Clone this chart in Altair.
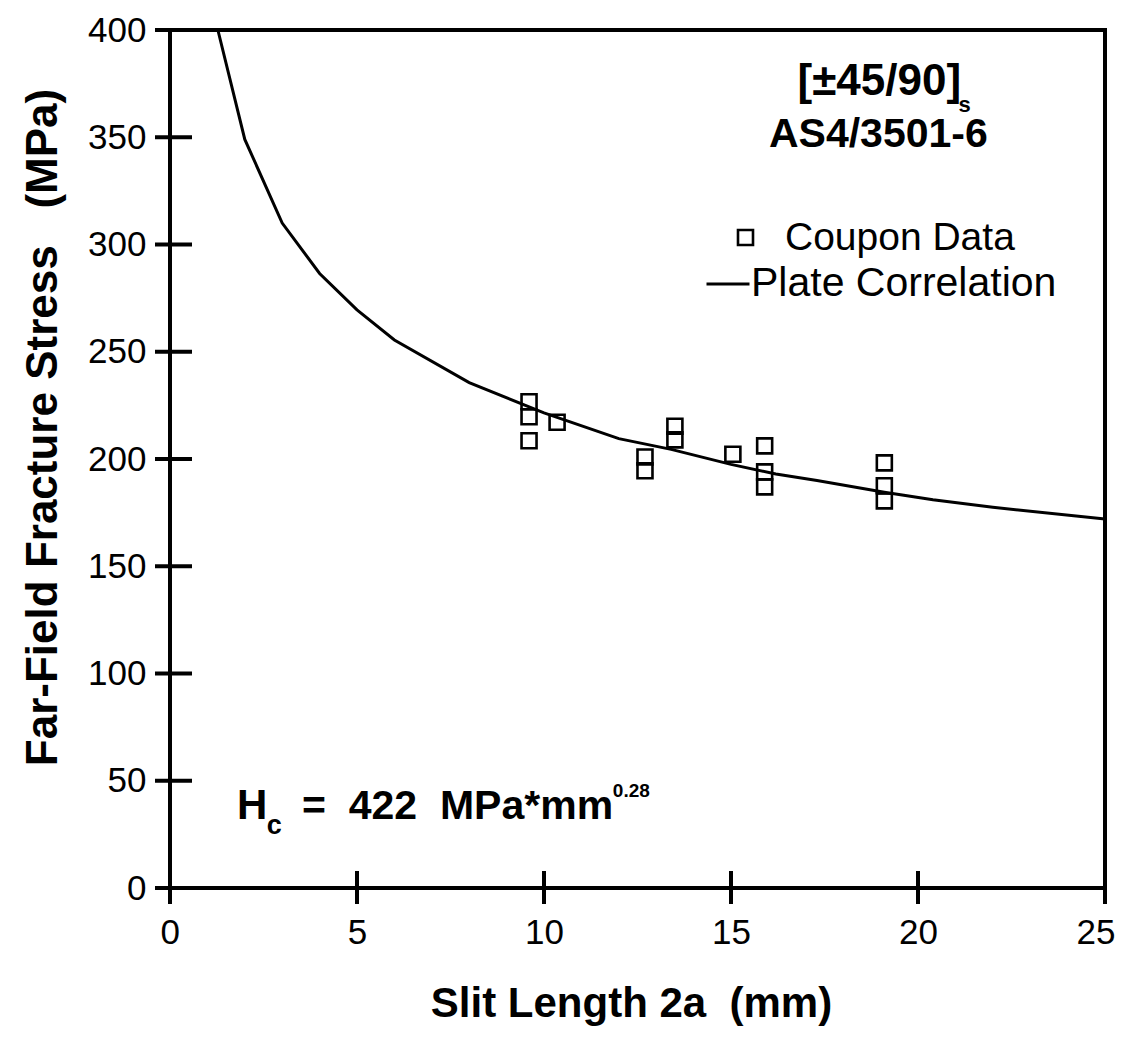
import altair as alt
import pandas as pd

FONT = "Liberation Sans"
NB = "\u00a0"

# ---- data ----
coupon_len = [9.6, 9.6, 9.6, 10.35, 12.7, 12.7, 13.5, 13.5, 15.05, 15.9, 15.9, 15.9, 19.1, 19.1, 19.1]
coupon_stress = [226.7, 219.7, 208.5, 217.1, 200.9, 194.5, 215.3, 208.9, 202.2, 206.1, 194.0, 187.0, 198.2, 187.5, 180.5]

curve_len = [1.28, 2, 3, 4, 5, 6, 8, 10, 12, 13.4, 15, 16.2, 17.3, 19.1, 20.4, 22, 25]
curve_stress = [400, 349, 310, 286.5, 269.5, 255.5, 235.6, 221.5, 209.5, 204.5, 197.5, 193, 190, 184.5, 181, 177.5, 172]

x_ticks = [0, 5, 10, 15, 20, 25]
y_ticks = [0, 50, 100, 150, 200, 250, 300, 350, 400]

series_points = "Coupon Data"
series_line = "Plate Correlation"

x_title = "Slit Length 2a" + NB + NB + "(mm)"
y_title = "Far-Field Fracture Stress" + NB + NB + NB + "(MPa)"

# ---- scales / axes ----
xscale = alt.Scale(domain=[0, 25], nice=False, zero=False)
yscale = alt.Scale(domain=[0, 400], nice=False, zero=False)

xaxis = alt.Axis(values=x_ticks, format="d", ticks=False, tickSize=0, domain=False, grid=False,
                 labelFont=FONT, labelFontSize=35, labelColor="black", labelPadding=27,
                 labelFlush=True, labelFlushOffset=10, labelOverlap=False,
                 title=x_title, titleFont=FONT, titleFontSize=42, titleFontWeight="bold",
                 titleColor="black", titleX=461, titleY=128, titleBaseline="alphabetic",
                 titleAlign="center")
yaxis = alt.Axis(values=y_ticks, format="d", ticks=False, tickSize=0, domain=False, grid=False,
                 labelFont=FONT, labelFontSize=35, labelColor="black", labelPadding=24,
                 labelFlush=False, labelOverlap=False,
                 title=y_title, titleFont=FONT, titleFontSize=44, titleFontWeight="bold",
                 titleColor="black", titleX=-127, titleY=397, titleBaseline="middle",
                 titleAlign="center", titleAngle=270)

X = lambda f: alt.X(f, type="quantitative", scale=xscale, axis=xaxis)
Y = lambda f: alt.Y(f, type="quantitative", scale=yscale, axis=yaxis)

df_pts = pd.DataFrame({"len": coupon_len, "stress": coupon_stress, "kind": series_points})
df_line = pd.DataFrame({"len": curve_len, "stress": curve_stress, "model": series_line})

points = alt.Chart(df_pts).mark_point(
    shape="square", filled=False, color="black", strokeWidth=2.6, size=225, opacity=1
).encode(
    x=X("len"), y=Y("stress"),
    shape=alt.Shape("kind:N", scale=alt.Scale(domain=[series_points], range=["square"]),
                    legend=alt.Legend(title=None, orient="none", legendX=556, legendY=188,
                                      padding=0, symbolSize=225, symbolStrokeWidth=2.6,
                                      symbolStrokeColor="black", symbolFillColor="transparent",
                                      symbolOpacity=1, labelFont=FONT, labelFontSize=39,
                                      labelColor="black", labelOffset=20, labelLimit=0)),
)

line = alt.Chart(df_line).mark_line(strokeWidth=3).encode(
    x=X("len"), y=Y("stress"),
    color=alt.Color("model:N", scale=alt.Scale(domain=[series_line], range=["black"]),
                    legend=alt.Legend(title=None, orient="none", legendX=535, legendY=231,
                                      padding=0, symbolType="stroke", symbolSize=1849,
                                      symbolStrokeWidth=3, symbolStrokeColor="black",
                                      labelFont=FONT, labelFontSize=41, labelColor="black",
                                      labelOffset=0, labelLimit=0)),
)

# tick marks crossing the axes
df_yt = pd.DataFrame({"stress": y_ticks})
yticks = alt.Chart(df_yt).mark_rule(
    strokeWidth=4, color="black", xOffset=-15, x2Offset=22
).encode(
    x=alt.XDatum(0, type="quantitative", scale=xscale, axis=xaxis),
    x2=alt.datum(0),
    y=Y("stress"),
)

df_xt = pd.DataFrame({"len": x_ticks})
xticks = alt.Chart(df_xt).mark_rule(
    strokeWidth=4, color="black", yOffset=-17, y2Offset=16
).encode(
    x=X("len"),
    y=alt.YDatum(0, type="quantitative", scale=yscale, axis=yaxis),
    y2=alt.datum(0),
)


def note(text, x, y, size, align="left", weight="bold"):
    df = pd.DataFrame({"len": [x], "stress": [y], "label": [text]})
    return alt.Chart(df).mark_text(
        font=FONT, fontSize=size, fontWeight=weight, align=align, baseline="alphabetic",
        color="black"
    ).encode(x=X("len"), y=Y("stress"), text="label:N")


notes = [
    note("[±45/90]", 16.78, 369.7, 44),
    note("s", 21.08, 361.8, 22),
    note("AS4/3501-6", 18.94, 345.5, 41, align="center"),
    note("H", 1.79, 32.2, 42),
    note("c", 2.59, 25.2, 27),
    note("=" + NB + NB + "422" + NB + NB + "MPa*mm", 3.53, 32.2, 41),
    note("0.28", 11.84, 42.4, 19),
]

chart = alt.layer(line, points, yticks, xticks, *notes).resolve_legend(
    shape="independent", color="independent"
).properties(
    width=935, height=858,
    padding={"left": 162, "top": 22, "right": 12, "bottom": 139},
    autosize=alt.AutoSizeParams(type="none"),
    background="white",
).configure_view(stroke="black", strokeWidth=4)

chart.save("out.html", embed_options={"renderer": "svg", "actions": False})
